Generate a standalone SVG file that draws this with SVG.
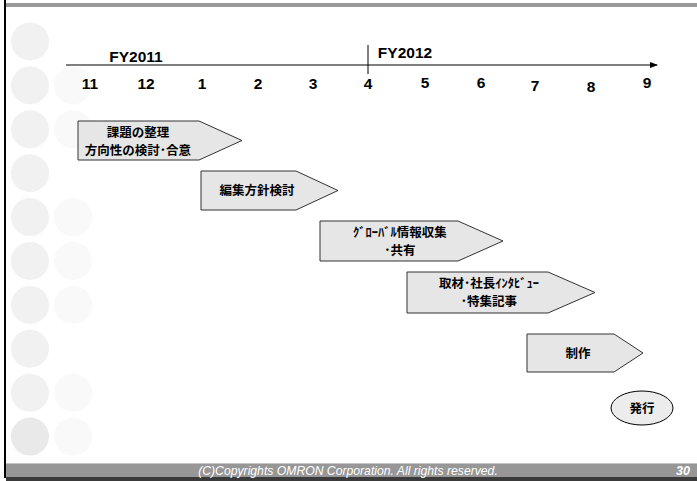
<svg xmlns="http://www.w3.org/2000/svg" width="697" height="481" viewBox="0 0 697 481">
<style>
.c1{fill:#f1f1f1}
.c2{fill:#f9f9f9}
.ax{font-family:"Liberation Sans",Arial,sans-serif;font-weight:bold;font-size:15.5px;fill:#000;text-anchor:middle}
.shp{fill:#e6e6e6;stroke:#333;stroke-width:1}
.jp{font-family:"Noto Sans CJK JP",sans-serif;font-weight:bold;font-size:12.5px;fill:#000;text-anchor:middle}
.ft{font-family:"Liberation Sans",Arial,sans-serif;font-style:italic;fill:#fff}
</style>
<defs>
<marker id="ah" markerWidth="8" markerHeight="6" refX="7" refY="3" orient="auto" markerUnits="userSpaceOnUse">
<path d="M0,0 L8,3 L0,6 Z" fill="#000"/>
</marker>
</defs>
<rect width="697" height="481" fill="#fff"/>
<g id="background">
<rect x="6" y="3" width="691" height="4" fill="#999"/>
<circle class="c1" cx="30" cy="41.5" r="19"/>
<circle class="c1" cx="30" cy="85.4" r="19"/>
<circle class="c1" cx="30" cy="129.3" r="19"/>
<circle class="c1" cx="30" cy="173.2" r="19"/>
<circle class="c1" cx="30" cy="217.1" r="19"/>
<circle class="c1" cx="30" cy="261" r="19"/>
<circle class="c1" cx="30" cy="304.9" r="19"/>
<circle class="c1" cx="30" cy="348.8" r="19"/>
<circle class="c1" cx="30" cy="392.7" r="19"/>
<circle cx="30" cy="436.6" r="19" fill="#e9e9e9"/>
<circle class="c2" cx="73" cy="85.4" r="19"/>
<circle class="c2" cx="73" cy="129.3" r="19"/>
<circle class="c2" cx="73" cy="217.1" r="19"/>
<circle class="c2" cx="73" cy="261" r="19"/>
<circle class="c2" cx="73" cy="304.9" r="19"/>
<circle class="c2" cx="73" cy="392.7" r="19"/>
<circle class="c2" cx="73" cy="436.6" r="19"/>
<rect x="6" y="463" width="691" height="1" fill="#c4c4c4"/>
<rect x="6" y="464" width="691" height="13" fill="#979797"/>
<rect x="6" y="477" width="691" height="4" fill="#3a3a3a"/>
<rect x="4" y="0" width="2" height="478" fill="#000"/>
<text class="ft" x="348" y="474.5" font-size="12.2" text-anchor="middle">(C)Copyrights OMRON Corporation. All rights reserved.</text>
<text class="ft" x="690" y="475" font-size="12.5" font-weight="bold" text-anchor="end">30</text>
</g>
<g id="timeline">
<line x1="66" y1="65" x2="657" y2="65" stroke="#000" stroke-width="1" marker-end="url(#ah)"/>
<line x1="368" y1="45" x2="368" y2="74" stroke="#000" stroke-width="1"/>
<text class="ax" x="136" y="62">FY2011</text>
<text class="ax" x="405" y="58">FY2012</text>
<text class="ax" x="90" y="89">11</text>
<text class="ax" x="146" y="89">12</text>
<text class="ax" x="202" y="89">1</text>
<text class="ax" x="258" y="89">2</text>
<text class="ax" x="313" y="89">3</text>
<text class="ax" x="368" y="89">4</text>
<text class="ax" x="425" y="88">5</text>
<text class="ax" x="481" y="88">6</text>
<text class="ax" x="535" y="91">7</text>
<text class="ax" x="591" y="92">8</text>
<text class="ax" x="647" y="88">9</text>
</g>
<g id="task1">
<path class="shp" d="M78,121 L199,121 L242,140.5 L199,160 L78,160 Z"/>
<text class="jp" x="138" y="137">課題の整理</text>
<text class="jp" x="138" y="155">方向性の検討･合意</text>
</g>
<g id="task2">
<path class="shp" d="M201,171 L296,171 L338,190.5 L296,210 L201,210 Z"/>
<text class="jp" x="257" y="195">編集方針検討</text>
</g>
<g id="task3">
<path class="shp" d="M320,221 L458,221 L503,241 L458,261 L320,261 Z"/>
<text class="jp" x="400" y="237">ｸﾞﾛｰﾊﾞﾙ情報収集</text>
<text class="jp" x="400" y="255">･共有</text>
</g>
<g id="task4">
<path class="shp" d="M407,272 L548,272 L595,292.5 L548,313 L407,313 Z"/>
<text class="jp" x="489" y="288">取材･社長ｲﾝﾀﾋﾞｭｰ</text>
<text class="jp" x="489" y="306">･特集記事</text>
</g>
<g id="task5">
<path class="shp" d="M527,334 L614,334 L643,353 L614,372 L527,372 Z"/>
<text class="jp" x="578" y="358">制作</text>
</g>
<g id="release">
<ellipse cx="642" cy="408" rx="31" ry="17" fill="#ececec" stroke="#000" stroke-width="1"/>
<text class="jp" x="642" y="413" font-size="14">発行</text>
</g>
</svg>
